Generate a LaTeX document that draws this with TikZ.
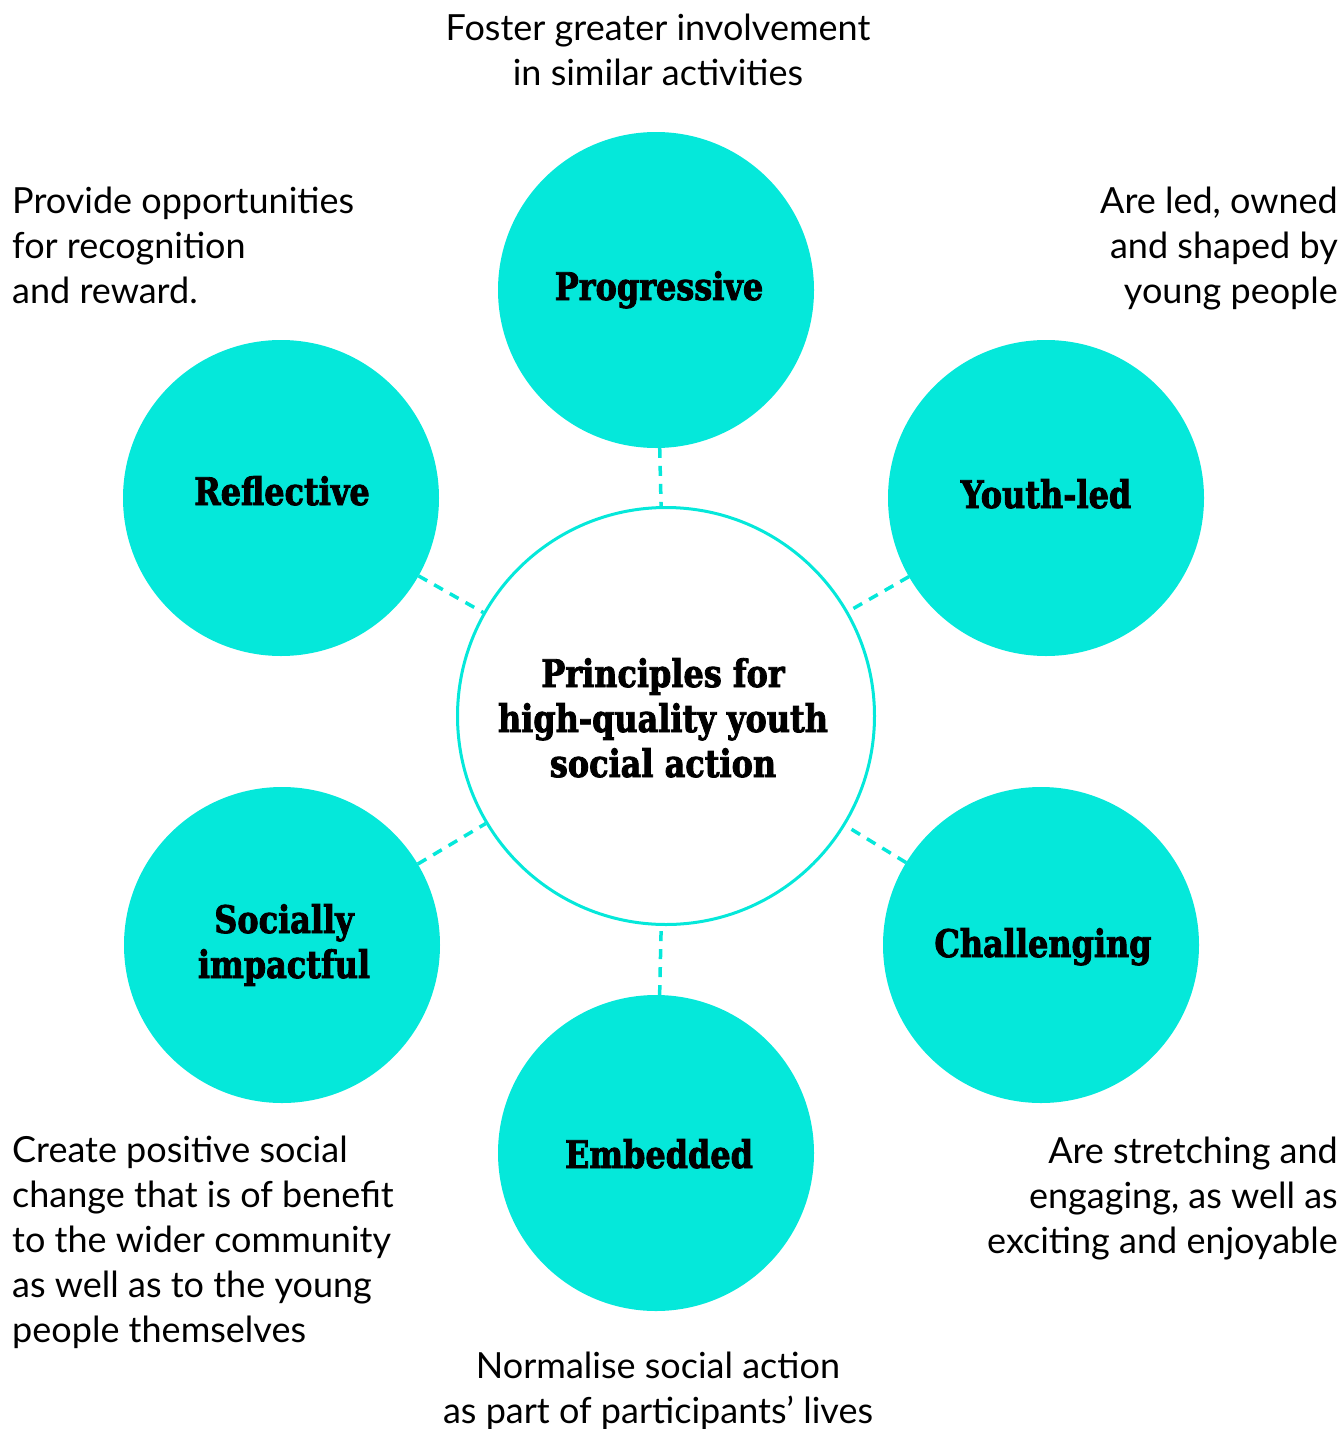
\documentclass[tikz,border=0pt]{standalone}
\usepackage{fontspec}
\setmainfont{Lato}
\newfontfamily\lblfont{DejaVu Serif Bold}[FakeStretch=0.84, FakeBold=2.2]
\definecolor{aqua}{RGB}{5,232,218}
\begin{document}
\begin{tikzpicture}[x=1pt,y=-1pt,
  sat/.style={circle, fill=aqua, minimum size=316pt, inner sep=0pt, outer sep=0pt},
  hub/.style={circle, draw=aqua, line width=3pt, fill=white, minimum size=417pt, inner sep=0pt},
  lbl/.style={font=\lblfont\fontsize{38}{45}\selectfont, align=center, anchor=base, inner sep=0pt},
  desc/.style={font=\fontsize{36}{45}\selectfont, inner sep=0pt},
  link/.style={draw=aqua, line width=3.5pt, dash pattern=on 10pt off 8pt}]
\useasboundingbox (0,0) rectangle (1342,1429);
% circles
\node[hub] (hub) at (666,716) {};
\node[sat] (prog) at (656,290) {};
\node[sat] (youth) at (1046,498) {};
\node[sat] (refl) at (281,498) {};
\node[sat] (soc) at (282,945) {};
\node[sat] (chal) at (1041,945) {};
\node[sat] (emb) at (656,1153) {};
% links
\foreach \n in {prog,youth,refl,soc,chal,emb}
  \draw[link] (\n) -- (hub);
% labels (anchor = baseline of last line)
\node[lbl] (tprog) at (659,300) {Progressive};
\node[lbl] (tyouth) at (1046,508) {Youth-led};
\node[lbl] (trefl) at (282,505) {Reflective};
\node[lbl] (tsoc) at (284,978) {Socially\\impactful};
\node[lbl] (tchal) at (1043,957) {Challenging};
\node[lbl] (temb) at (659,1168) {Embedded};
\node[lbl] (thub) at (663,777) {Principles for\\high-quality youth\\social action};
% descriptions
\node[desc, anchor=base, align=center] (dtop) at (658,85) {Foster greater involvement\\in similar activities};
\node[desc, anchor=base west, align=left] (dul) at (12,303) {Provide opportunities\\for recognition\\and reward.};
\node[desc, anchor=base east, align=right] (dur) at (1338,303) {Are led, owned\\and shaped by\\young people};
\node[desc, anchor=base west, align=left] (dll) at (12,1342) {Create positive social\\change that is of benefit\\to the wider community\\as well as to the young\\people themselves};
\node[desc, anchor=base east, align=right] (dlr) at (1338,1253) {Are stretching and\\engaging, as well as\\exciting and enjoyable};
\node[desc, anchor=base, align=center] (dbot) at (658,1423) {Normalise social action\\as part of participants’ lives};
\end{tikzpicture}
\end{document}
